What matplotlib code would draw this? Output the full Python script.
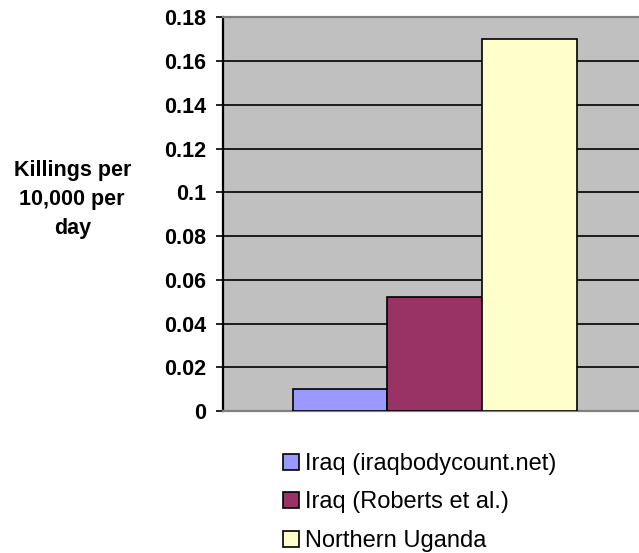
import matplotlib
matplotlib.use("Agg")
import matplotlib.pyplot as plt
from matplotlib.patches import Patch

categories = ["Iraq (iraqbodycount.net)", "Iraq (Roberts et al.)", "Northern Uganda"]
values = [0.01, 0.052, 0.17]
colors = ["#9999FF", "#993366", "#FFFFCC"]
yticks = [0, 0.02, 0.04, 0.06, 0.08, 0.1, 0.12, 0.14, 0.16, 0.18]
ytick_labels = ["0", "0.02", "0.04", "0.06", "0.08", "0.1", "0.12", "0.14", "0.16", "0.18"]

plt.rcParams['font.family'] = ['Liberation Sans', 'DejaVu Sans']

fig = plt.figure(figsize=(6.39, 5.53), dpi=100)
ax = fig.add_axes([0.3485, 0.2568, 0.6515, 0.7119])
ax.set_facecolor("#C0C0C0")

ax.set_ylim(0, 0.18)
ax.set_xlim(-1.239, 3.158)
ax.set_yticks(yticks)
ax.set_yticklabels(ytick_labels, fontweight='bold', fontsize=15.5)
ax.yaxis.grid(True, color='black', linewidth=1.2)
ax.set_axisbelow(True)
ax.set_xticks([])

xs = list(range(len(values)))
ax.bar(xs, values, width=1.0, color=colors, edgecolor='black', linewidth=1.2, zorder=3)

ax.spines['left'].set_color('black')
ax.spines['left'].set_linewidth(1.6)
ax.spines['top'].set_color('#808080')
ax.spines['top'].set_linewidth(1.6)
ax.spines['bottom'].set_color('#808080')
ax.spines['bottom'].set_linewidth(1.6)
ax.spines['right'].set_visible(False)
ax.tick_params(axis='y', direction='out', length=5, width=1.2, color='black', pad=7)

fig.text(0.113, 0.64, "Killings per\n10,000 per\nday", ha='center', va='center',
         multialignment='center', fontsize=15.5, fontweight='bold', linespacing=1.5)

handles = [Patch(facecolor=c, edgecolor='black', linewidth=1.2) for c in colors]
fig.legend(handles, categories, loc='upper left', bbox_to_anchor=(0.443, 0.181),
           frameon=False, fontsize=17, handlelength=0.68, handleheight=0.68,
           handletextpad=0.25, labelspacing=0.7, borderpad=0, borderaxespad=0)

fig.savefig("out.png", dpi=100)
